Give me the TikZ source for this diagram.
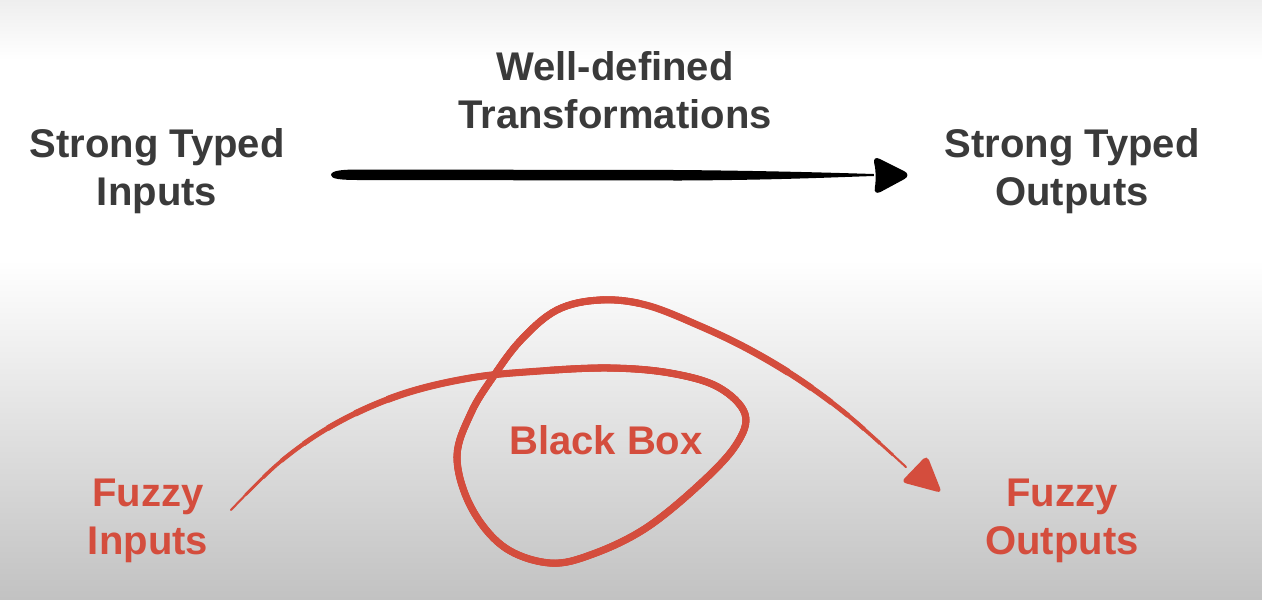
\documentclass[tikz,border=0pt]{standalone}
\usepackage{fontspec}
\setmainfont{Liberation Sans}
\definecolor{ink}{HTML}{3A3A3A}
\definecolor{fz}{HTML}{D44D3D}
\definecolor{bgbot}{HTML}{C2C2C2}
\definecolor{bgtop}{HTML}{EEEEEE}
\begin{document}
\begin{tikzpicture}[x=0.01cm,y=-0.01cm,
  lbl/.style={font=\bfseries\fontsize{11.38}{13.66}\selectfont, align=center, inner sep=0pt, text=ink},
  fzl/.style={lbl, text=fz},
  redline/.style={draw=fz, line cap=round, line join=round},
  redlayer/.style={draw=fz, line cap=butt, line join=round}]
\useasboundingbox (0,0) rectangle (1262,599);
% background
\shade[top color=bgtop, bottom color=white] (0,0) rectangle (1262,60);
\fill[white] (0,59) rectangle (1262,261);
\shade[top color=white, bottom color=bgbot] (0,260) rectangle (1262,599);
% labels
\node[lbl] (sin) at (157,171) {Strong Typed\\Inputs};
\node[lbl] (wdt) at (615,90.5) {Well-defined\\Transformations};
\node[lbl] (sout) at (1072,171) {Strong Typed\\Outputs};
\node[fzl] (fin) at (148,521) {Fuzzy\\Inputs};
\node[fzl] (bb) at (606,440.5) {Black Box};
\node[fzl] (fout) at (1062,521) {Fuzzy\\Outputs};
% black arrow
\coordinate (a0) at (331,175);
\coordinate (a1) at (912,175);
\fill[black] (a0) .. controls (331,170) and (345,169.5) .. (360,169.5) -- (680,170)
  .. controls (780,171) and (840,173) .. (874,174) -- (874,176)
  .. controls (840,177) and (780,180) .. (680,180.5) -- (360,180)
  .. controls (340,180) and (331,179) .. (a0) -- cycle;
\fill[black, rounded corners=2.5] (872,155) .. controls (876,170) and (876,182) .. (873,196) -- (a1) -- cycle;
% red curve (tapered brush stroke)
\coordinate (r0) at (231,510);
\coordinate (r1) at (906,467);
\path[save path=\rfwd] plot[smooth, tension=0.6] coordinates {(r0) (280,462) (335,424) (400,395) (470,378) (540,371) (610,368) (670,373) (718,387) (745,414) (736,445) (700,484) (646,528) (593,554) (550,563) (504,547) (471,507) (457,457) (471,413) (493,377) (521,340) (557,310) (600,300) (646,305) (700,326) (750,350) (800,380) (850,417) (r1)};
\path[save path=\rrev] plot[smooth, tension=0.6] coordinates {(r1) (850,417) (800,380) (750,350) (700,326) (646,305) (600,300) (557,310) (521,340) (493,377) (471,413) (457,457) (471,507) (504,547) (550,563) (593,554) (646,528) (700,484) (736,445) (745,414) (718,387) (670,373) (610,368) (540,371) (470,378) (400,395) (335,424) (280,462) (r0)};
\path[redline, line width=0.6pt, use path=\rfwd];
\foreach \w/\s/\e in {0.8/6/5, 1.0/13/10, 1.2/20/16, 1.4/28/22, 1.6/36/28, 1.8/45/35, 2.0/55/43} {
  \path[redlayer, line width=\w pt, dash pattern=on 0pt off \s pt on 300pt off 3000pt, use path=\rfwd];
  \path[redlayer, line width=\w pt, dash pattern=on 0pt off \e pt on 300pt off 3000pt, use path=\rrev];
}
\fill[fz, rounded corners=1.5] (901,482) -- (927,455) -- (942,493) -- cycle;
\end{tikzpicture}
\end{document}
